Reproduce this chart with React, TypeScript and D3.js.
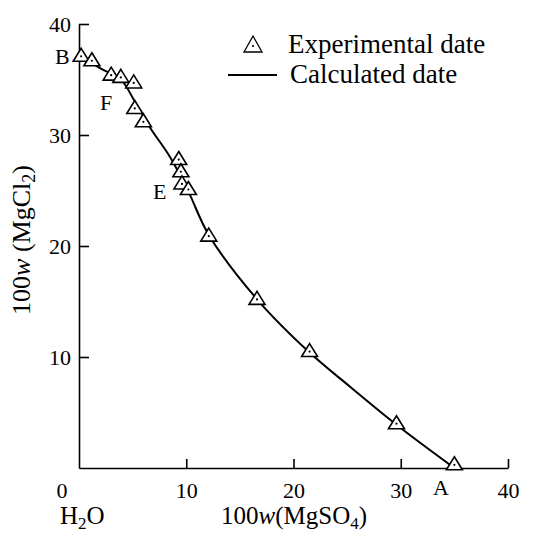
import React, { useEffect, useRef } from 'react';
import * as d3 from 'd3';

const width = 540;
const height = 534;
const margin = { top: 24, right: 32, bottom: 66, left: 79 };

// experimental points, 100w(MgSO4) vs 100w(MgCl2)
const expX = [0.2, 1.2, 3.0, 3.9, 5.1, 5.2, 6.0, 9.3, 9.5, 9.6, 10.2, 12.1, 16.6, 21.5, 29.6, 35.0];
const expY = [37.0, 36.6, 35.3, 35.1, 34.6, 32.3, 31.1, 27.7, 26.6, 25.5, 25.0, 20.8, 15.1, 10.4, 3.9, 0.2];

// calculated curve
const calcX = [0.1, 2.0, 3.9, 5.1, 6.6, 8.5, 10.2, 12.1, 16.6, 21.5, 25.3, 29.6, 35.0];
const calcY = [37.2, 36.0, 35.0, 33.2, 30.7, 28.0, 24.9, 21.0, 15.2, 10.4, 7.3, 3.9, 0.0];

const xTicks = [10, 20, 30, 40];
const yTicks = [10, 20, 30, 40];

const font = '"Liberation Serif", serif';

const x = d3.scaleLinear().domain([0, 40]).range([margin.left, width - margin.right]);
const y = d3.scaleLinear().domain([0, 40]).range([height - margin.bottom, margin.top]);

const tri = (cx: number, cy: number, hw = 8, up = 9, down = 4) =>
  `M${cx},${cy - up}L${cx + hw},${cy + down}L${cx - hw},${cy + down}Z`;

export default function App() {
  const xRef = useRef<SVGGElement>(null);
  const yRef = useRef<SVGGElement>(null);

  useEffect(() => {
    const xAxis = d3.axisBottom(x).tickValues(xTicks).tickSizeInner(-9).tickSizeOuter(0).tickPadding(14);
    const yAxis = d3.axisLeft(y).tickValues(yTicks).tickSizeInner(-10).tickSizeOuter(0).tickPadding(8);
    const gx = d3.select(xRef.current!).call(xAxis);
    const gy = d3.select(yRef.current!).call(yAxis);
    [gx, gy].forEach(g => {
      g.selectAll('path, line').attr('stroke', '#000').attr('stroke-width', 1.6);
      g.selectAll('text').attr('fill', '#000').style('font-family', font).style('font-size', '22px');
      g.attr('font-family', null).attr('font-size', null);
    });
  }, []);

  const line = d3.line<number>()
    .x((d, i) => x(calcX[i]))
    .y(d => y(d))
    .curve(d3.curveCatmullRom.alpha(0.5));

  return (
    <div style={{ position: 'absolute', left: 0, top: 0 }}>
      <svg width={width} height={height} style={{ display: 'block', background: '#fff' }}>
        <g ref={xRef} transform={`translate(0,${y(0)})`} />
        <g ref={yRef} transform={`translate(${x(0)},0)`} />
        <text x={x(0) - 17} y={y(0) + 30} fontFamily={font} fontSize={22} textAnchor="middle">0</text>

        <path d={line(calcY) || ''} fill="none" stroke="#000" strokeWidth={2} />

        {expX.map((v, i) => (
          <g key={i}>
            <path d={tri(x(v), y(expY[i]))} fill="#fff" stroke="#000" strokeWidth={1.6} />
            <circle cx={x(v)} cy={y(expY[i]) - 1} r={1.1} fill="#000" />
          </g>
        ))}

        <g fontFamily={font} fontSize={22} fill="#000">
          <text x={55} y={64}>B</text>
          <text x={100} y={110}>F</text>
          <text x={153} y={199}>E</text>
          <text x={433} y={495}>A</text>
        </g>

        <g fontFamily={font} fontSize={27} fill="#000">
          <path d={tri(253, 47, 9, 11, 5)} fill="#fff" stroke="#000" strokeWidth={1.3} />
          <circle cx={253} cy={46} r={1.1} fill="#000" />
          <text x={288} y={53}>Experimental date</text>
          <line x1={228} x2={277} y1={75} y2={75} stroke="#000" strokeWidth={2} />
          <text x={290} y={83}>Calculated date</text>
        </g>

        <g fontFamily={font} fontSize={25} fill="#000">
          <text x={60} y={524}>H<tspan fontSize={17} dy={5}>2</tspan><tspan dy={-5}>O</tspan></text>
          <text x={294} y={524} textAnchor="middle">
            100<tspan fontStyle="italic">w</tspan>(MgSO<tspan fontSize={17} dy={5}>4</tspan><tspan dy={-5}>)</tspan>
          </text>
          <text transform="translate(30,240) rotate(-90)" textAnchor="middle" fontSize={26}>
            100<tspan fontStyle="italic">w</tspan> (MgCl<tspan fontSize={18} dy={5}>2</tspan><tspan dy={-5}>)</tspan>
          </text>
        </g>
      </svg>
    </div>
  );
}
